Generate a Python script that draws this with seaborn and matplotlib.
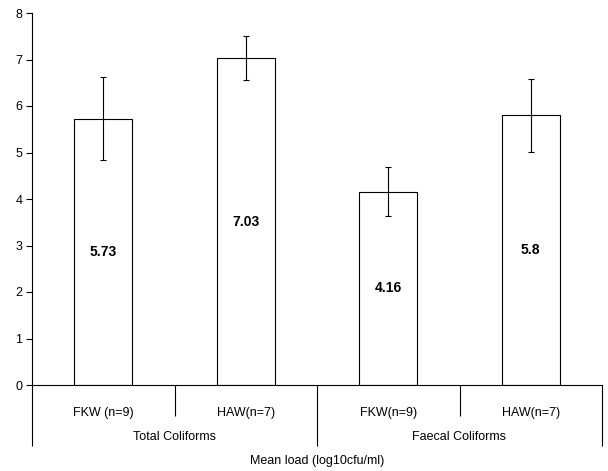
import pandas as pd
import matplotlib
matplotlib.use("Agg")
import matplotlib.pyplot as plt
import seaborn as sns

# values
groups = ["Total Coliforms", "Total Coliforms", "Faecal Coliforms", "Faecal Coliforms"]
sites = ["FKW (n=9)", "HAW(n=7)", "FKW(n=9)", "HAW(n=7)"]
means = [5.73, 7.03, 4.16, 5.8]
errors = [0.90, 0.48, 0.53, 0.78]
value_labels = ["5.73", "7.03", "4.16", "5.8"]
group_names = ["Total Coliforms", "Faecal Coliforms"]

df = pd.DataFrame({"group": groups, "site": sites, "mean": means, "err": errors})
df["key"] = df["group"] + "|" + df["site"]

sns.set_style("white")
plt.rcParams["font.family"] = ["Liberation Sans", "DejaVu Sans"]
for k in ["text.color", "axes.labelcolor", "xtick.color", "ytick.color"]:
    plt.rcParams[k] = "black"

W, H = 608, 471
fig = plt.figure(figsize=(W / 100, H / 100), dpi=100)
ax = fig.add_axes([32 / W, (H - 385) / H, (602 - 32) / W, (385 - 13) / H])

sns.barplot(data=df, x="key", y="mean", color="white", edgecolor="black",
            linewidth=0.8, width=0.41, errorbar=None, ax=ax)
ax.errorbar(range(len(df)), df["mean"], yerr=df["err"], fmt="none",
            ecolor="black", elinewidth=0.8, capsize=2.5, capthick=0.8)

for i, (m, lab) in enumerate(zip(means, value_labels)):
    ax.text(i, m / 2, lab, ha="center", va="center", fontsize=10, fontweight="bold")

ax.set_xlim(-0.5, 3.5)
ax.set_ylim(0, 8)
ax.set_yticks(range(0, 9))
ax.tick_params(axis="y", direction="out", length=4, width=0.8, labelsize=9, pad=3, left=True)
ax.set_xticks(range(4))
ax.set_xticklabels(sites)
ax.tick_params(axis="x", length=0, labelsize=9, pad=16)
ax.set_xlabel("")
ax.set_ylabel("")

for s in ["top", "right"]:
    ax.spines[s].set_visible(False)
for s in ["left", "bottom"]:
    ax.spines[s].set_color("black")
    ax.spines[s].set_linewidth(0.8)

# multi-level category axis dividers
trans = ax.get_xaxis_transform()
axh = 385 - 13
ax.vlines([0.5, 2.5], -31 / axh, 0, transform=trans, colors="black", lw=0.8, clip_on=False)
ax.vlines([-0.5, 1.5, 3.5], -61 / axh, 0, transform=trans, colors="black", lw=0.8, clip_on=False)
for x, name in zip([0.5, 2.5], group_names):
    ax.text(x, -52 / axh, name, transform=trans, ha="center", va="center", fontsize=9)
ax.text(0.5, -76 / axh, "Mean load (log10cfu/ml)", transform=ax.transAxes,
        ha="center", va="center", fontsize=9)

fig.savefig("out.png", dpi=100)
